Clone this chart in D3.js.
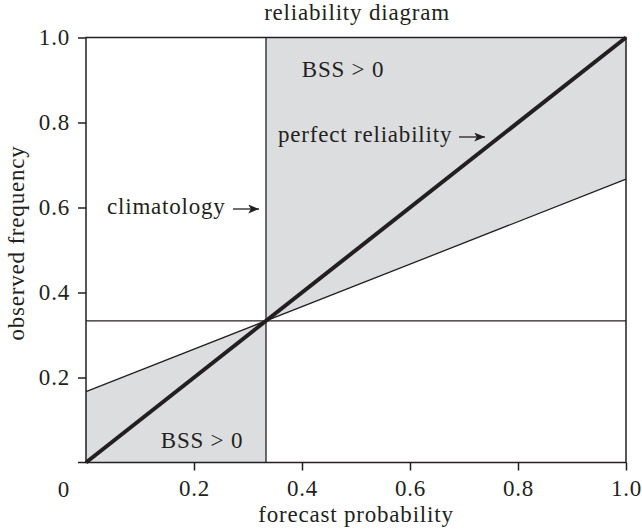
<!DOCTYPE html>
<html>
<head>
<meta charset="utf-8">
<script src="https://cdn.jsdelivr.net/npm/d3@7"></script>
<style>
  body { margin: 0; background: #fff; }
  text { font-family: "Liberation Serif", "DejaVu Serif", serif; fill: #231f20; letter-spacing: 0.8px; }
</style>
</head>
<body>
<svg id="chart" width="642" height="530"></svg>
<script>
// data
let xTicks = [0.2, 0.4, 0.6, 0.8, 1.0]
let yTicks = [0.2, 0.4, 0.6, 0.8, 1.0]
let climatology = 1 / 3
// no-skill line: halfway between climatology and perfect reliability
let noSkill = [[0, 1 / 6], [1, 2 / 3]]
let perfect = [[0, 0], [1, 1]]
let shadeUpper = [[1 / 3, 1 / 3], [1 / 3, 1], [1, 1], [1, 2 / 3]]
let shadeLower = [[0, 0], [0, 1 / 6], [1 / 3, 1 / 3], [1 / 3, 0]]

let ink = '#231f20'
let fs = '23px'
let x = d3.scaleLinear().domain([0, 1]).range([86, 626])
let y = d3.scaleLinear().domain([0, 1]).range([462.5, 37.5])
let svg = d3.select('#chart')

let line = d3.line().x(d => x(d[0])).y(d => y(d[1]))

svg.append('defs').append('marker')
    .attr('id', 'arrow')
    .attr('viewBox', '0 0 12 10')
    .attr('refX', 12).attr('refY', 5)
    .attr('markerWidth', 12).attr('markerHeight', 9)
    .attr('markerUnits', 'userSpaceOnUse')
    .attr('orient', 'auto')
    .append('path')
    .attr('d', 'M0,0 L12,5 L0,10 L3,5 Z')
    .attr('fill', ink)

// shading
svg.selectAll('.shade')
    .data([shadeUpper, shadeLower])
    .enter()
    .append('path')
    .attr('class', 'shade')
    .attr('d', d => line(d) + 'Z')
    .attr('fill', '#dcdddf')

// frame
svg.append('rect')
    .attr('x', x(0)).attr('y', y(1))
    .attr('width', x(1) - x(0)).attr('height', y(0) - y(1))
    .attr('fill', 'none').attr('stroke', ink).attr('stroke-width', 1.5)

// axes
svg.append('g')
    .attr('transform', 'translate(0,' + y(0) + ')')
    .call(d3.axisBottom(x).tickValues(xTicks).tickSize(8).tickPadding(9).tickFormat(d3.format('.1f')))
svg.append('g')
    .attr('transform', 'translate(' + x(0) + ',0)')
    .call(d3.axisLeft(y).tickValues(yTicks).tickSize(8).tickPadding(8).tickFormat(d3.format('.1f')))
svg.selectAll('.domain').remove()
svg.selectAll('.tick line').attr('stroke', ink).attr('stroke-width', 1.5)
svg.selectAll('.tick text').attr('font-size', fs).attr('font-family', '"Liberation Serif", serif').attr('fill', ink)
// bottom line stub left of origin
svg.append('line')
    .attr('x1', x(0) - 8).attr('x2', x(0))
    .attr('y1', y(0)).attr('y2', y(0))
    .attr('stroke', ink).attr('stroke-width', 1.5)
svg.append('text')
    .attr('x', 64).attr('y', 497)
    .attr('text-anchor', 'middle').attr('font-size', fs)
    .text('0')

// climatology lines
svg.append('line')
    .attr('x1', x(climatology)).attr('x2', x(climatology))
    .attr('y1', y(0)).attr('y2', y(1))
    .attr('stroke', ink).attr('stroke-width', 1.3)
svg.append('line')
    .attr('x1', x(0)).attr('x2', x(1))
    .attr('y1', y(climatology)).attr('y2', y(climatology))
    .attr('stroke', ink).attr('stroke-width', 1.3)

// no-skill line
svg.append('path')
    .attr('d', line(noSkill))
    .attr('fill', 'none').attr('stroke', ink).attr('stroke-width', 1.3)

// perfect reliability
svg.append('path')
    .attr('d', line(perfect))
    .attr('fill', 'none').attr('stroke', ink).attr('stroke-width', 4)

// labels
svg.append('text')
    .attr('x', 357).attr('y', 20)
    .attr('text-anchor', 'middle').attr('font-size', fs)
    .text('reliability diagram')
svg.append('text')
    .attr('x', 356).attr('y', 522)
    .attr('text-anchor', 'middle').attr('font-size', fs)
    .text('forecast probability')
svg.append('text')
    .attr('transform', 'translate(24,243) rotate(-90)')
    .attr('text-anchor', 'middle').attr('font-size', fs)
    .text('observed frequency')

svg.append('text')
    .attr('x', 343).attr('y', 77)
    .attr('text-anchor', 'middle').attr('font-size', fs)
    .text('BSS > 0')
svg.append('text')
    .attr('x', 202).attr('y', 448)
    .attr('text-anchor', 'middle').attr('font-size', fs)
    .text('BSS > 0')

svg.append('text')
    .attr('x', 278).attr('y', 142)
    .attr('font-size', fs)
    .text('perfect reliability')
svg.append('line')
    .attr('x1', 459).attr('x2', 485)
    .attr('y1', 137).attr('y2', 137)
    .attr('stroke', ink).attr('stroke-width', 1.3)
    .attr('marker-end', 'url(#arrow)')

svg.append('text')
    .attr('x', 107).attr('y', 214)
    .attr('font-size', fs)
    .text('climatology')
svg.append('line')
    .attr('x1', 233).attr('x2', 259)
    .attr('y1', 209).attr('y2', 209)
    .attr('stroke', ink).attr('stroke-width', 1.3)
    .attr('marker-end', 'url(#arrow)')
</script>
</body>
</html>
